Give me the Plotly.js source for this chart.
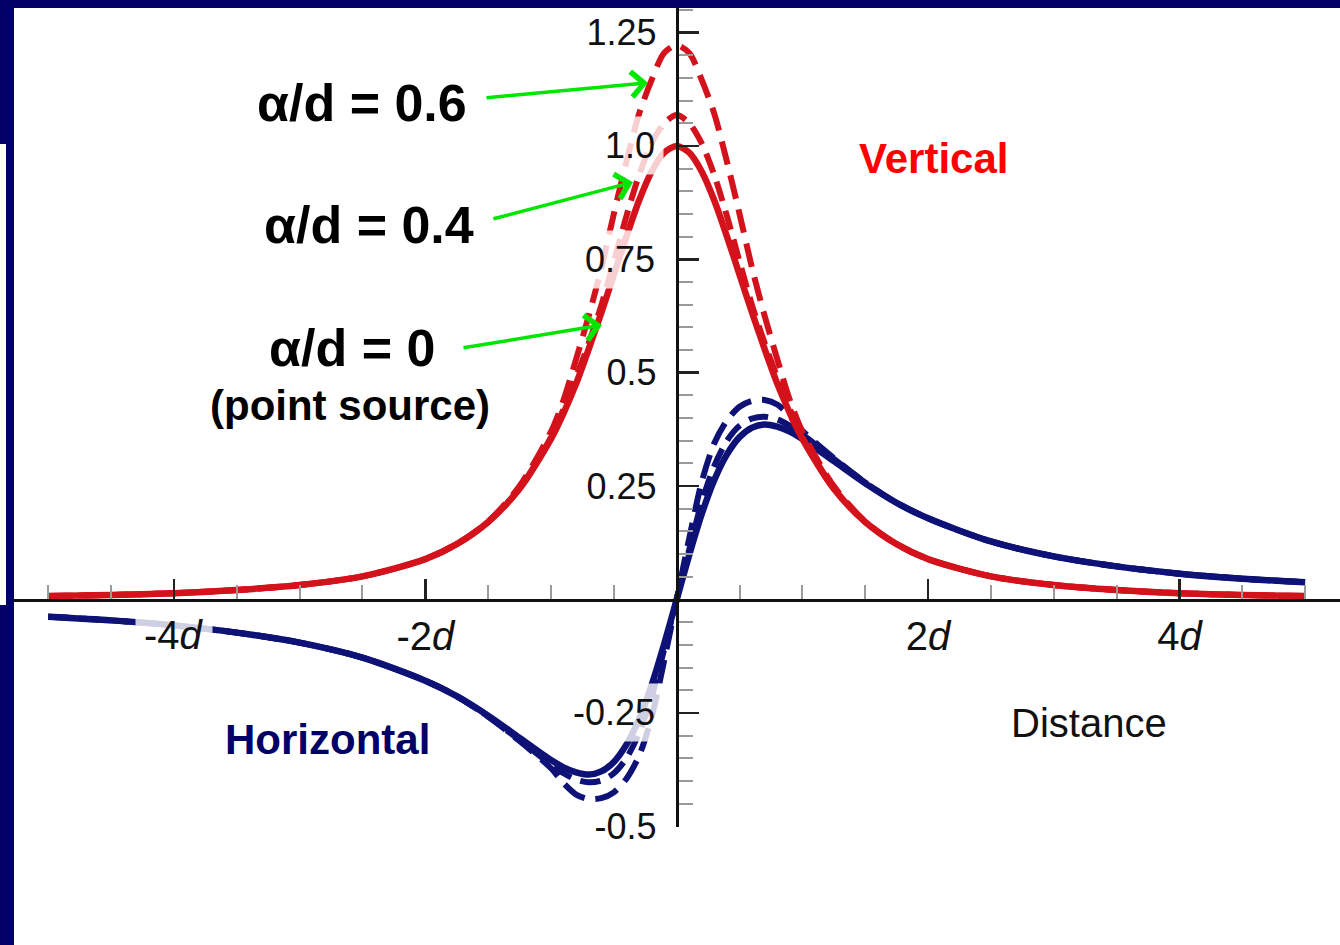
<!DOCTYPE html>
<html>
<head>
<meta charset="utf-8">
<script src="https://cdn.plot.ly/plotly-3.0.1.min.js"></script>
<style>
  html, body { margin: 0; padding: 0; background: #ffffff; }
  #chart { width: 1340px; height: 945px; }
</style>
</head>
<body>
<div id="chart"></div>
<script>
// Distance from the source, in units of the depth d
const distance = [-5, -4.5, -4, -3.5, -3, -2.5, -2, -1.75, -1.5, -1.25, -1, -0.9, -0.8, -0.7, -0.6, -0.5, -0.4, -0.3, -0.2, -0.1,
  0, 0.1, 0.2, 0.3, 0.4, 0.5, 0.6, 0.7, 0.8, 0.9, 1, 1.25, 1.5, 1.75, 2, 2.5, 3, 3.5, 4, 4.5, 5];

// Vertical component
const verticalPoint = [0.0075, 0.010, 0.014, 0.021, 0.032, 0.051, 0.089, 0.122, 0.171, 0.244, 0.354, 0.411, 0.476, 0.552, 0.632, 0.716, 0.800, 0.879, 0.943, 0.985,
  1.000, 0.985, 0.943, 0.879, 0.800, 0.716, 0.632, 0.552, 0.476, 0.411, 0.354, 0.244, 0.171, 0.122, 0.089, 0.051, 0.032, 0.021, 0.014, 0.010, 0.0075];
const vertical04 = [0.0075, 0.010, 0.014, 0.021, 0.032, 0.051, 0.089, 0.122, 0.171, 0.245, 0.358, 0.420, 0.490, 0.565, 0.648, 0.745, 0.845, 0.935, 1.005, 1.050,
  1.068, 1.050, 1.005, 0.935, 0.845, 0.745, 0.648, 0.565, 0.490, 0.420, 0.358, 0.245, 0.171, 0.122, 0.089, 0.051, 0.032, 0.021, 0.014, 0.010, 0.0075];
const vertical06 = [0.0075, 0.010, 0.014, 0.021, 0.032, 0.051, 0.089, 0.122, 0.172, 0.250, 0.370, 0.440, 0.530, 0.625, 0.730, 0.850, 0.965, 1.070, 1.145, 1.205,
  1.222, 1.205, 1.145, 1.070, 0.965, 0.850, 0.730, 0.625, 0.530, 0.440, 0.370, 0.250, 0.172, 0.122, 0.089, 0.051, 0.032, 0.021, 0.014, 0.010, 0.0075];

// Horizontal component
const horizontalPoint = [-0.038, -0.046, -0.057, -0.073, -0.095, -0.128, -0.179, -0.213, -0.256, -0.305, -0.354, -0.370, -0.381, -0.386, -0.379, -0.358, -0.320, -0.264, -0.189, -0.0985,
  0, 0.0985, 0.189, 0.264, 0.320, 0.358, 0.379, 0.386, 0.381, 0.370, 0.354, 0.305, 0.256, 0.213, 0.179, 0.128, 0.095, 0.073, 0.057, 0.046, 0.038];
const horizontal04 = [-0.038, -0.046, -0.057, -0.073, -0.095, -0.128, -0.179, -0.213, -0.258, -0.310, -0.364, -0.383, -0.397, -0.403, -0.399, -0.383, -0.350, -0.295, -0.215, -0.110,
  0, 0.110, 0.215, 0.295, 0.350, 0.383, 0.399, 0.403, 0.397, 0.383, 0.364, 0.310, 0.258, 0.213, 0.179, 0.128, 0.095, 0.073, 0.057, 0.046, 0.038];
const horizontal06 = [-0.038, -0.046, -0.057, -0.073, -0.095, -0.128, -0.179, -0.213, -0.258, -0.312, -0.372, -0.405, -0.430, -0.440, -0.438, -0.425, -0.395, -0.345, -0.260, -0.135,
  0, 0.135, 0.260, 0.345, 0.395, 0.425, 0.438, 0.440, 0.430, 0.405, 0.372, 0.312, 0.258, 0.213, 0.179, 0.128, 0.095, 0.073, 0.057, 0.046, 0.038];

// Tick labels
const xTickVals = [-4, -2, 2, 4];
const xTickText = ['-4<i>d</i>', '-2<i>d</i>', '2<i>d</i>', '4<i>d</i>'];
const yTickVals = [-0.5, -0.25, 0.25, 0.5, 0.75, 1.0, 1.25];
const yTickText = ['-0.5', '-0.25', '0.25', '0.5', '0.75', '1.0', '1.25'];

const RED = 'rgb(212,18,28)';
const BLUE = 'rgb(14,18,118)';
const NAVY = '#000066';
const GREEN = '#00e600';

const W = 1340, H = 945;
const M = { l: 14, r: 0, t: 8, b: 118 };
const xRange = [-5.272, 5.277];
const yRange = [-0.5015, 1.304];

// page pixel -> paper fraction, for the slide frame
const plotW = W - M.l - M.r, plotH = H - M.t - M.b;
const px = v => (v - M.l) / plotW;
const py = v => (H - M.b - v) / plotH;

function line(y, color, width, dash) {
  return {
    x: distance, y: y, type: 'scatter', mode: 'lines',
    line: { color: color, width: width, dash: dash, shape: 'spline', smoothing: 0.8 },
    hoverinfo: 'skip'
  };
}

const traces = [
  line(horizontal06, BLUE, 6, '24px,11px'),
  line(horizontal04, BLUE, 6, '20px,10px'),
  line(horizontalPoint, BLUE, 6.5, 'solid'),
  line(vertical06, RED, 6, '24px,11px'),
  line(vertical04, RED, 6, '20px,10px'),
  line(verticalPoint, RED, 6.5, 'solid')
];

// minor tick positions
const xMinor = [];
for (let k = -10; k <= 10; k++) {
  if (k % 4 !== 0) xMinor.push(k * 0.5);
}
const yMinor = [];
for (let k = -9; k <= 26; k++) {
  if (k % 5 !== 0) yMinor.push(+(k * 0.05).toFixed(2));
}

const FAMILY = '"Liberation Sans Narrow", "Liberation Sans", Arial, sans-serif';
const yTickFont = { family: FAMILY, size: 36, color: '#111111' };
const xTickFont = { family: FAMILY, size: 40, color: '#111111' };
const boldFont = (size, color) => ({ family: '"Liberation Sans", Arial, sans-serif', size: size, color: color });

const frame = (x0, y0, x1, y1) => ({
  type: 'rect', xref: 'paper', yref: 'paper',
  x0: px(x0), x1: px(x1), y0: py(y1), y1: py(y0),
  fillcolor: NAVY, line: { width: 0 }, layer: 'above'
});

function textNote(text, x, y, font, extra) {
  return Object.assign({ text: text, x: x, y: y, xref: 'x', yref: 'y', showarrow: false,
    xanchor: 'center', yanchor: 'middle', font: font }, extra || {});
}

function arrowNote(x, y, ax, ay) {
  return { text: '', x: x, y: y, xref: 'x', yref: 'y', showarrow: true, ax: ax, ay: ay,
    arrowhead: 4, arrowsize: 1.4, arrowwidth: 3.5, arrowcolor: GREEN, standoff: 0 };
}

// tick labels that sit on a translucent white patch over the curves
const PATCH = 'rgba(255,255,255,0.8)';
const fadedYLabel = (text, y) => ({
  text: text, x: 0, y: y, xref: 'x', yref: 'y', showarrow: false,
  xanchor: 'right', yanchor: 'middle', xshift: -13, borderpad: 8,
  bgcolor: PATCH, font: yTickFont
});
const fadedXLabel = (text, x) => ({
  text: text, x: x, y: 0, xref: 'x', yref: 'y', showarrow: false,
  xanchor: 'center', yanchor: 'top', yshift: -4, borderpad: 8,
  bgcolor: PATCH, font: xTickFont
});

const fadedY = ['1.0', '0.75', '-0.25'];
const fadedX = ['-4<i>d</i>'];
const shownYText = yTickText.map(t => fadedY.includes(t) ? '' : t);
const shownXText = xTickText.map(t => fadedX.includes(t) ? '' : t);

const layout = {
  width: W, height: H,
  margin: { l: M.l, r: M.r, t: M.t, b: M.b, pad: 0 },
  paper_bgcolor: '#ffffff', plot_bgcolor: '#ffffff',
  showlegend: false,
  xaxis: {
    range: xRange, anchor: 'free', position: (0 - yRange[0]) / (yRange[1] - yRange[0]),
    showgrid: false, zeroline: false, showline: true, linecolor: '#111111', linewidth: 3,
    ticks: 'inside', ticklen: 20, tickwidth: 2.5, tickcolor: '#222222',
    tickmode: 'array', tickvals: xTickVals, ticktext: shownXText, tickfont: xTickFont,
    ticklabelstandoff: 0,
    minor: { tickmode: 'array', tickvals: xMinor, ticks: 'inside', ticklen: 14, tickwidth: 2, tickcolor: '#9a9a9a', showgrid: false },
    fixedrange: true
  },
  yaxis: {
    range: yRange, anchor: 'free', position: (0 - xRange[0]) / (xRange[1] - xRange[0]),
    showgrid: false, zeroline: false, showline: true, linecolor: '#111111', linewidth: 3,
    ticks: 'inside', ticklen: 20, tickwidth: 2.5, tickcolor: '#222222',
    tickmode: 'array', tickvals: yTickVals, ticktext: shownYText, tickfont: yTickFont,
    ticklabelstandoff: 12,
    minor: { tickmode: 'array', tickvals: yMinor, ticks: 'inside', ticklen: 14, tickwidth: 2, tickcolor: '#9a9a9a', showgrid: false },
    fixedrange: true
  },
  shapes: [
    frame(0, 0, 1340, 8),
    frame(0, 0, 14, 144),
    frame(6, 144, 14, 605),
    frame(0, 605, 14, 945)
  ],
  annotations: [
    fadedYLabel('1.0', 1.0),
    fadedYLabel('0.75', 0.75),
    fadedYLabel('-0.25', -0.25),
    fadedXLabel('-4<i>d</i>', -4),
    textNote('<b>α/d = 0.6</b>', -2.50, 1.095, boldFont(52, '#000000')),
    textNote('<b>α/d = 0.4</b>', -2.45, 0.826, boldFont(52, '#000000')),
    textNote('<b>α/d = 0</b>', -2.58, 0.554, boldFont(52, '#000000')),
    textNote('<b>(point source)</b>', -2.60, 0.427, boldFont(42, '#000000')),
    textNote('<b>Vertical</b>', 2.04, 0.973, boldFont(42, '#ff0000')),
    textNote('<b>Horizontal</b>', -2.78, -0.309, boldFont(42, NAVY)),
    textNote('Distance', 3.28, -0.273, { family: FAMILY, size: 40, color: '#111111' }),
    arrowNote(-0.228, 1.139, -163, 15),
    arrowNote(-0.348, 0.920, -141, 37),
    arrowNote(-0.594, 0.605, -140, 23)
  ]
};

Plotly.newPlot('chart', traces, layout, { staticPlot: true, displayModeBar: false });
</script>
</body>
</html>
